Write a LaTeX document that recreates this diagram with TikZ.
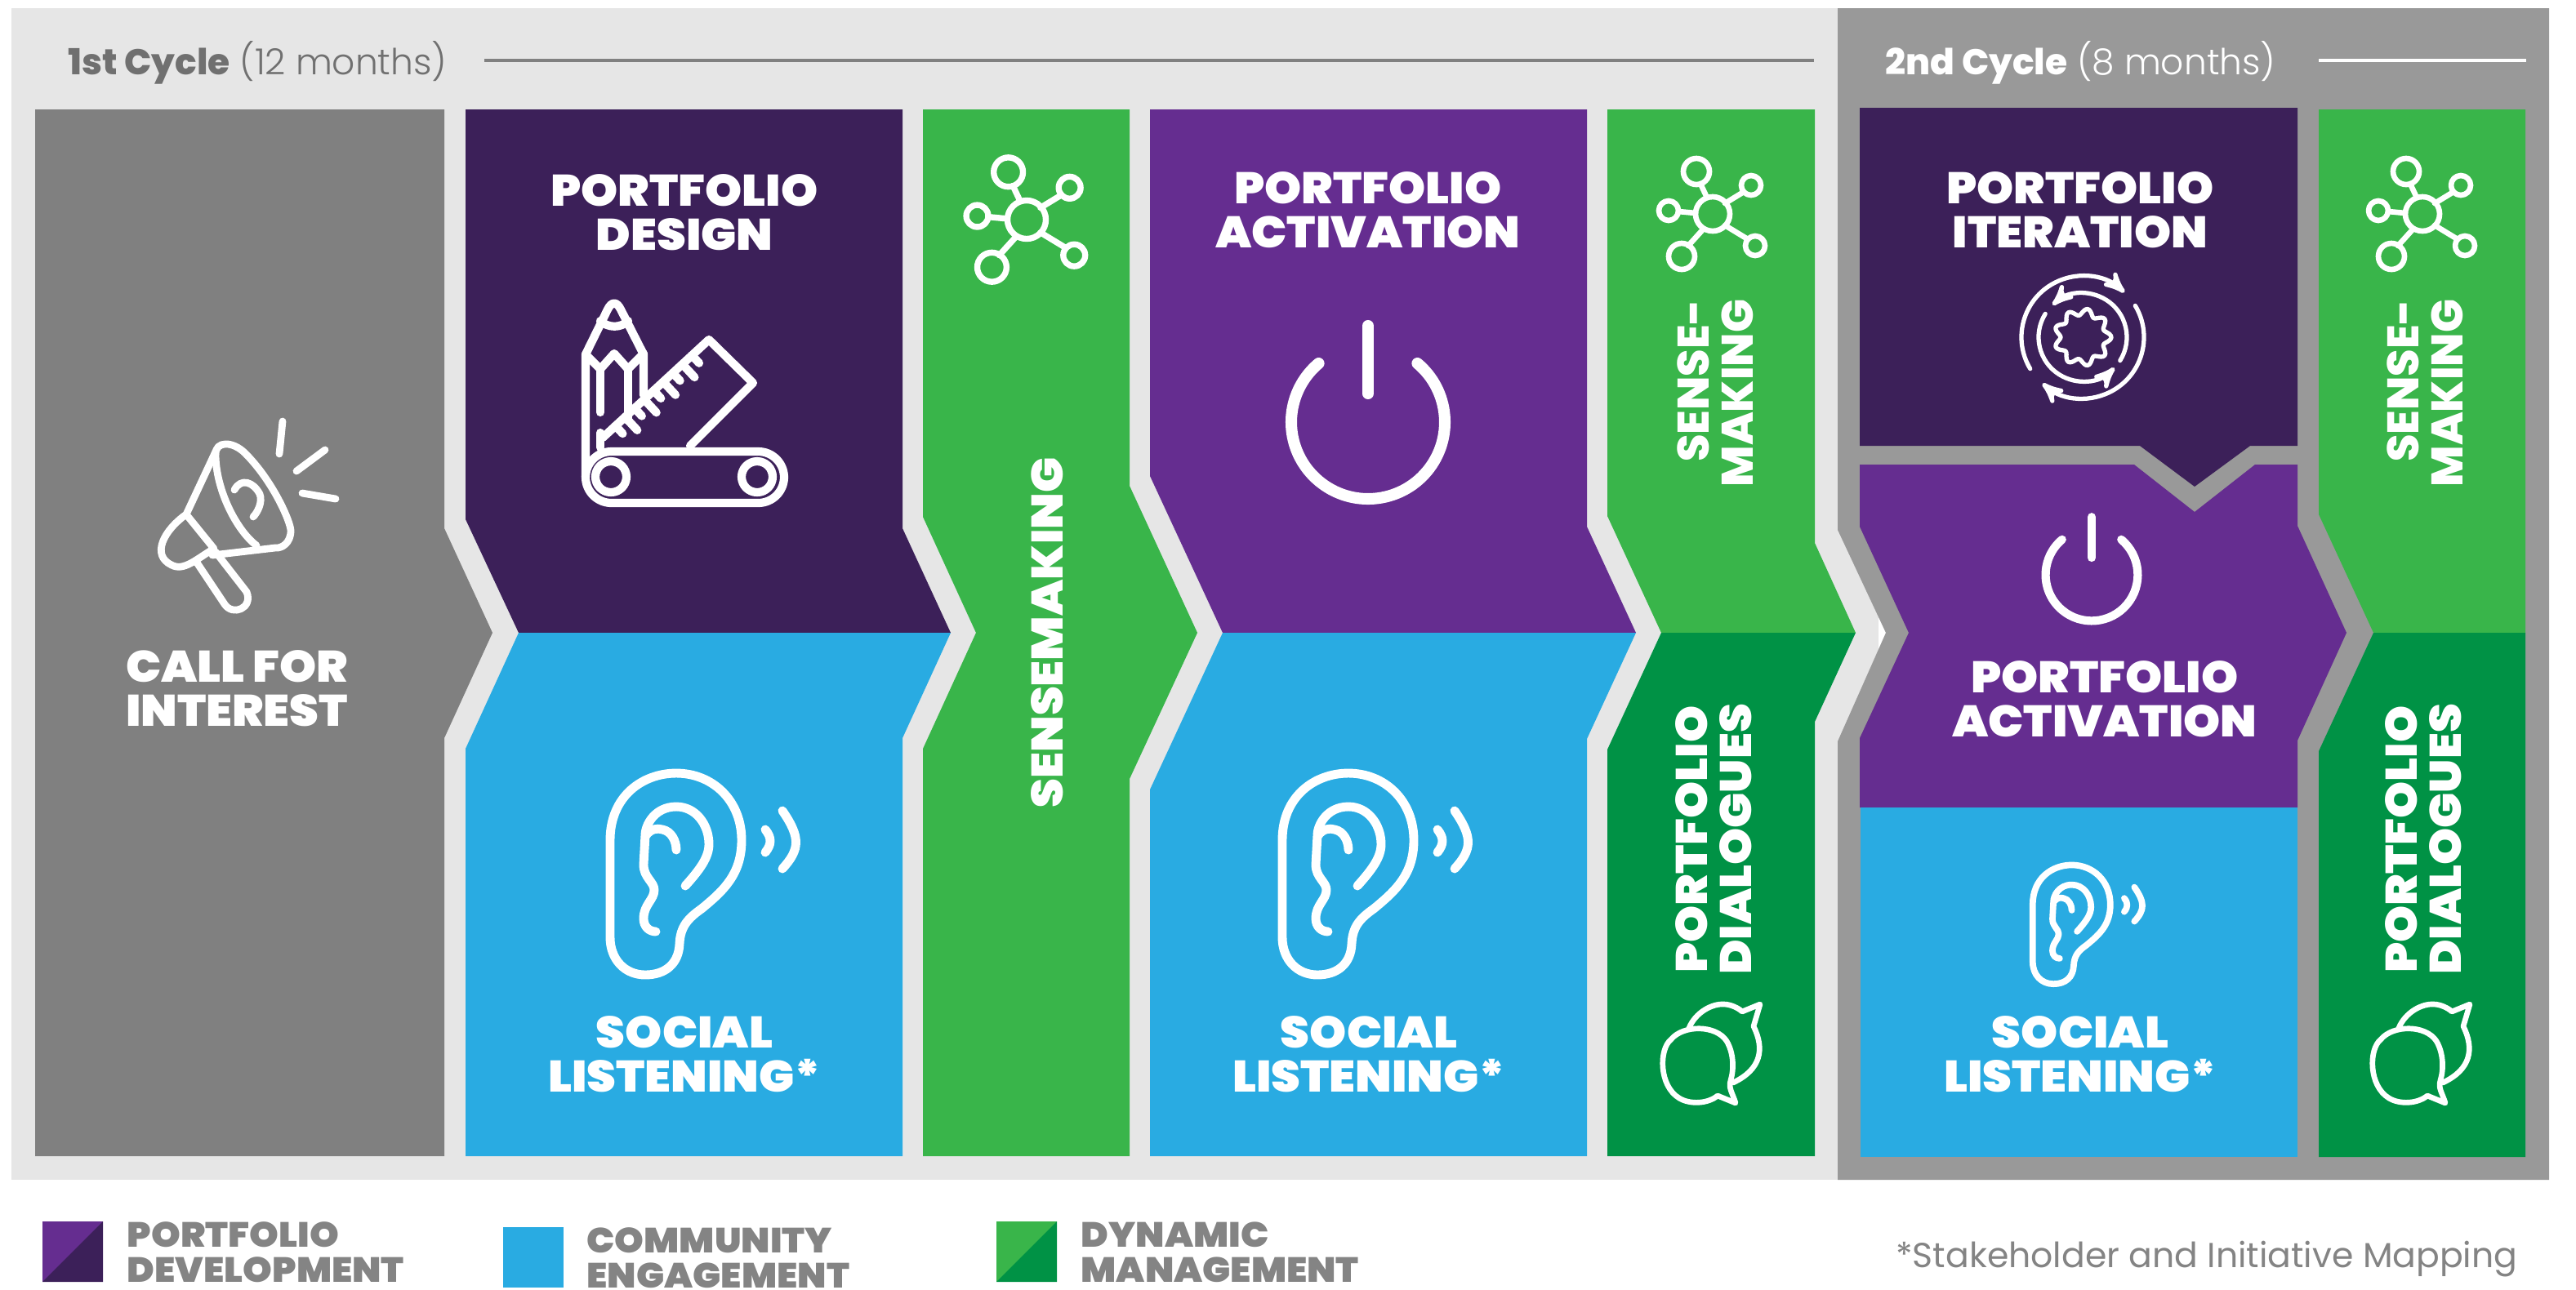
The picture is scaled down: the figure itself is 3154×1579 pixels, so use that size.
\documentclass[tikz,border=0pt]{standalone}
\usepackage{fontspec}
\setmainfont{Poppins}
\newfontfamily\heavyfont[FakeStretch=1.06]{Poppins Black}
\newfontfamily\titlefont{Poppins ExtraBold}
\newfontfamily\lightfont{Poppins Light}
\usetikzlibrary{arrows}
\definecolor{bgLight}{HTML}{E6E6E6}
\definecolor{bgDark}{HTML}{999999}
\definecolor{callGray}{HTML}{808080}
\definecolor{deepPurple}{HTML}{3C2059}
\definecolor{midPurple}{HTML}{652D90}
\definecolor{skyBlue}{HTML}{29ABE2}
\definecolor{lightGreen}{HTML}{39B54A}
\definecolor{deepGreen}{HTML}{009245}
\definecolor{legendGray}{HTML}{848484}
\tikzset{
  ear/.pic={
    \draw (-80,78) -- (-80,-41) .. controls (-80,-95) and (-40,-123) .. (1,-123) .. controls (45,-123) and (81,-90) .. (81,-41) .. controls (81,0) and (60,20) .. (32,43) .. controls (15,55) and (6,65) .. (5,86) .. controls (4,110) and (-12,124) .. (-37,124) .. controls (-62,124) and (-80,105) .. (-80,78) -- cycle;
    \draw (12,15) .. controls (30,-5) and (41,-20) .. (41,-36) .. controls (41,-60) and (25,-82) .. (1,-82) .. controls (-25,-82) and (-37,-60) .. (-37,-47) -- (-39,-11) .. controls (-39,5) and (-26,10) .. (-26,20) .. controls (-26,32) and (-39,38) .. (-39,55) .. controls (-39,65) and (-32,71) .. (-24,71);
    \draw (-36,-47) .. controls (-30,-55) and (-22,-56) .. (-16,-54) .. controls (-5,-52) and (1,-40) .. (1,-29);
    \draw (110,-54) .. controls (118,-44) and (118,-36) .. (110,-26);
    \draw (131,-77) .. controls (153,-45) and (153,-30) .. (131,-6);
  },
  hub/.pic={
    \draw (0,0) circle (21);
    \foreach \px/\py/\pr in {-20/-52/16, 47/-35/12, -54/-4/12, 52/39/12, -38/52/16}{
      \draw (\px,\py) circle (\pr);
    }
    \draw (-7,-20) -- (-15,-37);
    \draw (15,-13) -- (38,-27);
    \draw (-21,-1) -- (-42,-3);
    \draw (15,14) -- (43,31);
    \draw (-11,18) -- (-30,39);
  },
  bubbles/.pic={
    \draw (44,46) -- (22,37) .. controls (10,47) and (-12,48) .. (-25,40) .. controls (-50,25) and (-50,-20) .. (-35,-32) .. controls (-20,-50) and (20,-50) .. (33,-30) .. controls (42,-15) and (42,5) .. (38,18) .. controls (35,28) and (40,33) .. (44,46) -- cycle;
    \draw (-13,-46) .. controls (-5,-65) and (15,-76) .. (30,-75) .. controls (38,-75) and (48,-70) .. (52,-66) -- (74,-75) -- (66,-48) .. controls (80,-20) and (75,5) .. (41,21);
  },
  powersign/.pic={
    \draw (-50:94) arc[start angle=-50,end angle=230,radius=94];
    \draw (0,-118) -- (0,-35);
  }
}
\begin{document}
\begin{tikzpicture}[x=0.1mm,y=-0.1mm,
    heading/.style={text=white,font=\heavyfont\fontsize{15.4}{15.4}\selectfont,align=center,inner sep=0pt},
    sidetext/.style={heading,rotate=90},
    iconline/.style={draw=white,line width=2.9pt,line cap=round,line join=round},
    legendtext/.style={text=legendGray,font=\heavyfont\fontsize{12.2}{12.2}\selectfont,align=left,anchor=west,inner sep=0pt}]

  \useasboundingbox (0,0) rectangle (3154,1579);

  % backgrounds
  \fill[bgLight] (14,10) rectangle (2300,1445);
  \fill[bgDark] (2250,10) -- (3121,10) -- (3121,1445) -- (2250,1445) -- (2250,908) -- (2309,775) -- (2250,649) -- cycle;

  % first cycle
  \node[anchor=base west,inner sep=0pt,text=legendGray!85!black,font=\fontsize{12.5}{12.5}\selectfont] (cycleA) at (83,91) {{\titlefont 1st Cycle} {\lightfont (12 months)}};
  \draw[callGray,line width=0.9pt] (593,74) -- (2221,74);

  \fill[callGray] (43,134) -- (544,134) -- (544,647) -- (603,775) -- (544,904) -- (544,1416) -- (43,1416) -- cycle;
  \fill[deepPurple] (570,134) -- (1105,134) -- (1105,647) -- (1164,775) -- (635,775) -- (570,636) -- cycle;
  \fill[skyBlue] (635,775) -- (1164,775) -- (1105,904) -- (1105,1416) -- (570,1416) -- (570,917) -- cycle;
  \fill[lightGreen] (1130,134) -- (1383,134) -- (1383,595) -- (1466,775) -- (1383,954) -- (1383,1416) -- (1130,1416) -- (1130,917) -- (1195,775) -- (1130,633) -- cycle;
  \fill[midPurple] (1408,134) -- (1943,134) -- (1943,645) -- (2003,775) -- (1497,775) -- (1408,583) -- cycle;
  \fill[skyBlue] (1497,775) -- (2003,775) -- (1943,905) -- (1943,1416) -- (1408,1416) -- (1408,967) -- cycle;
  \fill[lightGreen] (1968,134) -- (2222,134) -- (2222,665) -- (2272,775) -- (2034,775) -- (1968,632) -- cycle;
  \fill[deepGreen] (2034,775) -- (2272,775) -- (2222,884) -- (2222,1416) -- (1968,1416) -- (1968,918) -- cycle;

  % second cycle
  \node[anchor=base west,inner sep=0pt,text=white,font=\fontsize{12.5}{12.5}\selectfont] (cycleB) at (2308,91) {{\titlefont 2nd Cycle} {\lightfont (8 months)}};
  \draw[white,line width=0.9pt] (2839,74) -- (3093,74);

  \fill[deepPurple] (2277,132) -- (2813,132) -- (2813,546) -- (2755,546) -- (2687,596) -- (2620,546) -- (2277,546) -- cycle;
  \fill[midPurple] (2277,569) -- (2613,569) -- (2687,627) -- (2761,569) -- (2813,569) -- (2813,644) -- (2873,775) -- (2813,907) -- (2813,989) -- (2277,989) -- (2277,904) -- (2337,775) -- (2277,645) -- cycle;
  \fill[skyBlue] (2278,989) rectangle (2813,1417);
  \fill[lightGreen] (2839,134) -- (3092,134) -- (3092,775) -- (2906,775) -- (2839,630) -- cycle;
  \fill[deepGreen] (2906,775) -- (3092,775) -- (3092,1417) -- (2839,1417) -- (2839,920) -- cycle;

  % headings
  \node[heading] (call) at (290,843) {CALL FOR\\INTEREST};
  \node[heading] (design) at (838,260) {PORTFOLIO\\DESIGN};
  \node[heading] (activeA) at (1675,257) {PORTFOLIO\\ACTIVATION};
  \node[heading] (listenA) at (838,1291) {SOCIAL\\LISTENING*};
  \node[heading] (listenB) at (1676,1291) {SOCIAL\\LISTENING*};
  \node[heading] (iterate) at (2547,257) {PORTFOLIO\\ITERATION};
  \node[heading] (activeB) at (2577,856) {PORTFOLIO\\ACTIVATION};
  \node[heading] (listenC) at (2547,1291) {SOCIAL\\LISTENING*};
  \node[sidetext] (senseA) at (1282,775) {SENSEMAKING};
  \node[sidetext,font=\titlefont\fontsize{15.4}{15.4}\selectfont,align=right,anchor=east] (senseB) at (2100,366) {SENSE-\\MAKING};
  \node[sidetext,font=\titlefont\fontsize{15.4}{15.4}\selectfont,align=right,anchor=east] (senseC) at (2969,366) {SENSE-\\MAKING};
  \node[sidetext] (talkA) at (2098,1028) {PORTFOLIO\\DIALOGUES};
  \node[sidetext] (talkB) at (2967,1028) {PORTFOLIO\\DIALOGUES};

  % megaphone
  \begin{scope}[iconline,line width=2.5pt]
    \draw (264,556) .. controls (264,540) and (285,540) .. (300,555) .. controls (335,590) and (356,640) .. (356,650) .. controls (356,665) and (345,672) .. (337,671) -- (260,680);
    \draw (264,556) .. controls (264,600) and (290,650) .. (314,668);
    \draw (264,553) -- (228,630) .. controls (200,650) and (185,680) .. (210,692) .. controls (225,700) and (240,685) .. (262,672) -- (228,630);
    \draw (241,689) -- (275,740) .. controls (285,755) and (310,745) .. (302,725) -- (264,676);
    \draw (287,600) .. controls (295,585) and (310,590) .. (318,605) .. controls (322,615) and (315,628) .. (310,633);
    \draw (346,516) -- (342,556);
    \draw (398,551) -- (363,577);
    \draw (370,604) -- (411,611);
  \end{scope}

  % pencil and ruler
  \begin{scope}[iconline]
    \draw[rounded corners=9pt] (717,553) rectangle (960,616);
    \draw (748,584) circle (19);
    \draw (927,584) circle (19);
    \draw (717,584) -- (717,434) -- (744,379) .. controls (749,369) and (755,369) .. (760,379) -- (788,434) -- (788,484);
    \draw (735,393) .. controls (745,402) and (760,402) .. (769,393);
    \draw (717,434) -- (735,452) -- (752,433) -- (769,452) -- (788,433);
    \draw (735,452) -- (735,505);
    \draw (735,530) -- (735,548);
    \draw (769,452) -- (769,515);
    \draw (738,536) -- (868,416) -- (922,469) -- (845,546);
    \foreach \tt/\tl in {0.12/13,0.21/22,0.30/13,0.39/22,0.48/13,0.57/22,0.66/13,0.75/22,0.84/13}{
      \draw ({738+130*\tt},{536-120*\tt}) -- ++({0.68*\tl},{0.73*\tl});
    }
  \end{scope}

  % power signs
  \pic[iconline,line width=4pt] at (1675,517) {powersign};
  \pic[iconline,line width=2.9pt,scale=0.6] at (2561,704) {powersign};

  % ears
  \pic[iconline,line width=3.1pt] at (827,1070) {ear};
  \pic[iconline,line width=3.1pt] at (1650,1070) {ear};
  \pic[iconline,line width=2.2pt,scale=0.59] at (2536,1132) {ear};

  % hubs
  \pic[iconline,line width=2.1pt,scale=1.12] at (1257,269) {hub};
  \pic[iconline,line width=1.9pt] at (2097,262) {hub};
  \pic[iconline,line width=1.9pt] at (2966,262) {hub};

  % speech bubbles
  \pic[iconline,line width=1.9pt] at (2081,1305) {bubbles};
  \pic[iconline,line width=1.9pt] at (2950,1305) {bubbles};

  % cycle with gear
  \begin{scope}[iconline,line width=1.5pt,shift={(2550,413)},>=stealth']
    \draw[->] (149:75) arc[start angle=149,end angle=313,radius=75];
    \draw[->] (329:75) arc[start angle=329,end angle=491,radius=75];
    \draw[->] (32:54) arc[start angle=32,end angle=-133,radius=54];
    \draw[->] (212:54) arc[start angle=212,end angle=44,radius=54];
    \draw plot[domain=0:360,samples=109,smooth] (\x:{31+4*cos(9*\x)}) -- cycle;
  \end{scope}

  % legend
  \fill[midPurple] (52,1496) rectangle (126,1570);
  \fill[deepPurple] (126,1496) -- (126,1570) -- (52,1570) -- cycle;
  \node[legendtext] (legA) at (155,1534) {PORTFOLIO\\DEVELOPMENT};
  \fill[skyBlue] (616,1503) rectangle (690,1577);
  \node[legendtext] (legB) at (718,1541) {COMMUNITY\\ENGAGEMENT};
  \fill[lightGreen] (1220,1496) rectangle (1294,1570);
  \fill[deepGreen] (1294,1496) -- (1294,1570) -- (1220,1570) -- cycle;
  \node[legendtext] (legC) at (1323,1534) {DYNAMIC\\MANAGEMENT};
  \node[anchor=base east,inner sep=0pt,text=legendGray,font=\fontsize{12.1}{12.1}\selectfont] (note) at (3083,1552) {*Stakeholder and Initiative Mapping};
\end{tikzpicture}
\end{document}
